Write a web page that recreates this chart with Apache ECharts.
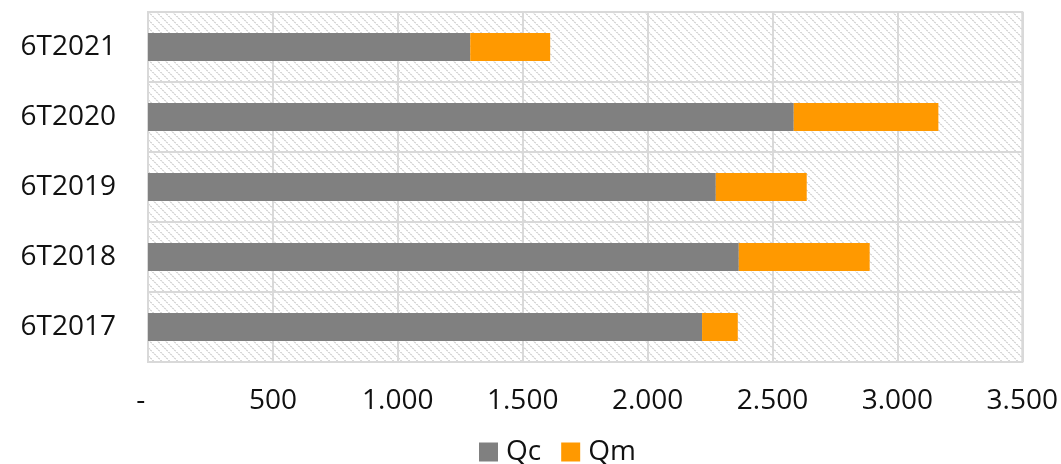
<!DOCTYPE html>
<html>
<head>
<meta charset="utf-8">
<script src="https://cdn.jsdelivr.net/npm/echarts@6/dist/echarts.min.js"></script>
<style>
  html, body { margin: 0; padding: 0; background: #fff; }
  #chart { width: 1061px; height: 464px; }
</style>
</head>
<body>
<div id="chart"></div>
<script>
// Half-year periods, listed bottom to top on the category axis
const periods = ['6T2017', '6T2018', '6T2019', '6T2020', '6T2021'];
// Stacked components
const qcValues = [2218, 2365, 2273, 2585, 1290];
const qmValues = [143, 524, 364, 579, 320];
const seriesNames = ['Qc', 'Qm'];
const xTicks = [0, 500, 1000, 1500, 2000, 2500, 3000, 3500];

const FONT = '"Open Sans", "Noto Sans", sans-serif';

// Diagonal dotted hatch used to fill the plotting area
function makeHatch() {
  const size = 8;
  const c = document.createElement('canvas');
  c.width = size; c.height = size;
  const ctx = c.getContext('2d');
  ctx.fillStyle = '#ffffff';
  ctx.fillRect(0, 0, size, size);
  for (let i = 0; i < size; i++) {
    ctx.fillStyle = (i % 2 === 0) ? '#d8d8d8' : '#eeeeee';
    ctx.fillRect(i, i, 2, 1);
  }
  return c;
}

function fmtThousands(v) {
  if (v === 0) return '-  ';
  return String(v).replace(/\B(?=(\d{3})+(?!\d))/g, '.');
}

const chart = echarts.init(document.getElementById('chart'), null, { renderer: 'canvas' });
chart.setOption({
  animation: false,
  textStyle: { fontFamily: FONT },
  grid: {
    left: 148, right: 37, top: 12, bottom: 102,
    show: true,
    backgroundColor: { image: makeHatch(), repeat: 'repeat' },
    borderColor: '#d9d9d9',
    borderWidth: 2
  },
  legend: {
    top: 438,
    left: 479,
    padding: 0,
    itemWidth: 19,
    itemHeight: 19,
    itemGap: 20,
    icon: 'rect',
    data: seriesNames,
    textStyle: { fontSize: 28, lineHeight: 28, color: '#111', fontFamily: FONT, padding: [0, 0, 0, 3] }
  },
  xAxis: {
    type: 'value',
    min: 0,
    max: 3500,
    interval: 500,
    axisLine: { show: false },
    axisTick: { show: false },
    splitLine: { show: true, lineStyle: { color: '#d9d9d9', width: 2 } },
    axisLabel: {
      fontSize: 28, color: '#111', margin: 25, fontFamily: FONT,
      formatter: fmtThousands,
      customValues: xTicks
    }
  },
  yAxis: {
    type: 'category',
    data: periods,
    axisLine: { show: false },
    axisTick: { show: false },
    splitLine: { show: true, lineStyle: { color: '#d9d9d9', width: 2 } },
    axisLabel: { fontSize: 28, color: '#111', margin: 32, fontFamily: FONT }
  },
  series: [
    {
      name: seriesNames[0], type: 'bar', stack: 'total', barWidth: 28,
      itemStyle: { color: '#808080' },
      data: qcValues
    },
    {
      name: seriesNames[1], type: 'bar', stack: 'total', barWidth: 28,
      itemStyle: { color: '#FF9900' },
      data: qmValues
    }
  ]
});
</script>
</body>
</html>
